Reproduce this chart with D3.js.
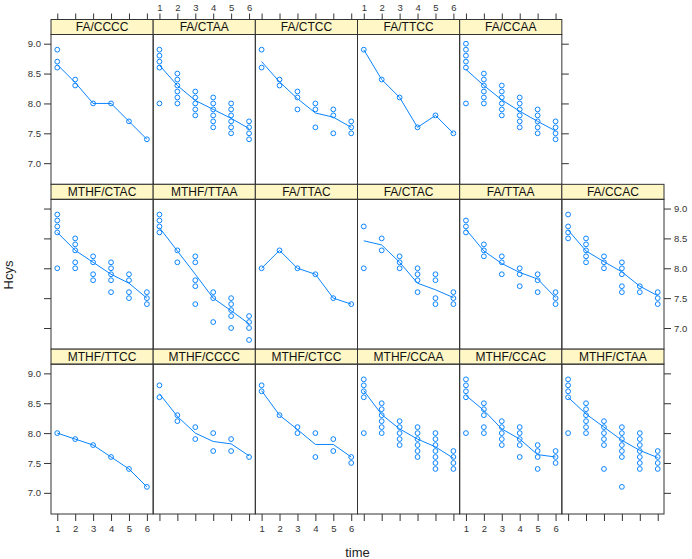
<!DOCTYPE html>
<html><head><meta charset="utf-8">
<script src="https://cdn.jsdelivr.net/npm/d3@7"></script>
<style>body{margin:0;background:#fff}svg{display:block}</style>
</head><body><svg id="c" width="692" height="559"></svg>
<script>
// ---------------- data ----------------
const times = [1, 2, 3, 4, 5, 6];
const yTicks = [7.0, 7.5, 8.0, 8.5, 9.0];
const xTickLabels = ["1", "2", "3", "4", "5", "6"];

// observed Hcys values per time point (index 0 -> time 1)
const FA_CCCC   = [[8.9,8.7,8.6],[8.4,8.3],[8.0],[8.0],[7.7],[7.4]];
const FA_CTAA   = [[8.9,8.8,8.7,8.6,8.0],[8.5,8.4,8.3,8.2,8.1,8.0],[8.2,8.1,8.0,7.9,7.8],[8.1,8.0,7.9,7.8,7.7,7.6],[8.0,7.9,7.8,7.7,7.6,7.5],[7.7,7.6,7.5,7.4]];
const FA_CTCC   = [[8.9,8.6],[8.4,8.3],[8.2,8.1,7.9],[8.0,7.9,7.6],[7.9,7.8,7.5],[7.7,7.6,7.5]];
const FA_TTCC   = [[8.9],[8.4],[8.1],[7.6],[7.8],[7.5]];
const FA_CCAA   = [[9.0,8.9,8.8,8.7,8.6,8.0],[8.5,8.4,8.3,8.2,8.1,8.0],[8.3,8.2,8.1,8.0,7.9,7.8],[8.1,8.0,7.9,7.8,7.7,7.6],[7.9,7.8,7.7,7.6,7.5],[7.7,7.6,7.5,7.4]];
const MTHF_CTAC = [[8.9,8.8,8.7,8.6,8.0],[8.5,8.4,8.3,8.1,8.0],[8.2,8.1,7.9,7.8],[8.1,8.0,7.9,7.8,7.6],[7.9,7.8,7.6,7.5],[7.6,7.5,7.4]];
const MTHF_TTAA = [[8.9,8.8,8.7,8.6],[8.3,8.1],[8.2,8.1,7.8,7.7,7.4],[7.6,7.5,7.1],[7.5,7.4,7.3,7.2,7.0],[7.2,7.1,7.0,6.8]];
const FA_TTAC   = [[8.0],[8.3],[8.0],[7.9],[7.5],[7.4]];
const FA_CTAC   = [[8.7,8.0],[8.5,8.3],[8.2,8.1,8.0],[8.0,7.9,7.8,7.6],[7.9,7.8,7.5,7.4],[7.6,7.5,7.4]];
const FA_TTAA   = [[8.8,8.7,8.6],[8.4,8.3,8.2],[8.2,8.1,7.9],[8.0,7.9,7.7],[7.9,7.8,7.6],[7.6,7.5,7.4]];
const FA_CCAC   = [[8.9,8.7,8.6,8.5],[8.5,8.4,8.3,8.2,8.1],[8.2,8.1,8.0],[8.1,8.0,7.9,7.7,7.6],[7.7,7.6],[7.6,7.5,7.4]];
const MTHF_TTCC = [[8.0],[7.9],[7.8],[7.6],[7.4],[7.1]];
const MTHF_CCCC = [[8.8,8.6],[8.3,8.2],[8.1,7.9],[8.0,7.7],[7.9,7.7],[7.6]];
const MTHF_CTCC = [[8.8,8.7],[8.3],[8.1,8.0],[8.0,7.6],[7.9,7.7],[7.6,7.5]];
const MTHF_CCAA = [[8.9,8.8,8.7,8.6,8.0],[8.5,8.4,8.3,8.2,8.1,8.0],[8.2,8.1,8.0,7.9,7.8],[8.1,8.0,7.9,7.8,7.7,7.6],[8.0,7.9,7.8,7.7,7.6,7.5,7.4],[7.7,7.6,7.5,7.4]];
const MTHF_CCAC = [[8.9,8.8,8.7,8.6,8.0],[8.5,8.4,8.3,8.1,8.0],[8.2,8.1,8.0,7.9,7.8],[8.1,8.0,7.9,7.8,7.6],[7.8,7.7,7.6,7.4],[7.7,7.6,7.5]];
const MTHF_CTAA = [[8.9,8.8,8.7,8.6,8.0],[8.5,8.4,8.3,8.2,8.1,8.0],[8.2,8.1,8.0,7.9,7.8,7.4],[8.1,8.0,7.9,7.8,7.7,7.6,7.1],[8.0,7.9,7.8,7.7,7.6,7.5,7.4],[7.7,7.6,7.5,7.4]];

// fitted trend line values per time point
const FA_CCCC_fit   = [8.65,8.35,8.0,8.0,7.7,7.4];
const FA_CTAA_fit   = [8.64,8.30,8.05,7.90,7.75,7.58];
const FA_CTCC_fit   = [8.70,8.36,8.08,7.84,7.77,7.60];
const FA_TTCC_fit   = [8.9,8.4,8.1,7.6,7.8,7.5];
const FA_CCAA_fit   = [8.57,8.30,8.06,7.87,7.70,7.54];
const MTHF_CTAC_fit = [8.60,8.30,8.10,7.90,7.75,7.50];
const MTHF_TTAA_fit = [8.68,8.29,7.90,7.50,7.29,7.07];
const FA_TTAC_fit   = [8.0,8.3,8.0,7.9,7.5,7.4];
const FA_CTAC_fit   = [8.46,8.39,8.10,7.75,7.64,7.51];
const FA_TTAA_fit   = [8.65,8.29,8.08,7.93,7.82,7.51];
const FA_CCAC_fit   = [8.64,8.29,8.11,7.94,7.70,7.54];
const MTHF_TTCC_fit = [8.0,7.9,7.8,7.6,7.4,7.1];
const MTHF_CCCC_fit = [8.66,8.28,8.00,7.86,7.82,7.62];
const MTHF_CTCC_fit = [8.71,8.30,8.06,7.81,7.81,7.60];
const MTHF_CCAA_fit = [8.71,8.31,8.07,7.90,7.77,7.58];
const MTHF_CCAC_fit = [8.63,8.38,8.07,7.90,7.64,7.60];
const MTHF_CTAA_fit = [8.60,8.32,8.10,7.88,7.71,7.59];

// panels in reading order (top row has 5 panels, then rows of 6)
const panelNames = ["FA/CCCC","FA/CTAA","FA/CTCC","FA/TTCC","FA/CCAA",
  "MTHF/CTAC","MTHF/TTAA","FA/TTAC","FA/CTAC","FA/TTAA","FA/CCAC",
  "MTHF/TTCC","MTHF/CCCC","MTHF/CTCC","MTHF/CCAA","MTHF/CCAC","MTHF/CTAA"];
const panelPoints = [FA_CCCC,FA_CTAA,FA_CTCC,FA_TTCC,FA_CCAA,
  MTHF_CTAC,MTHF_TTAA,FA_TTAC,FA_CTAC,FA_TTAA,FA_CCAC,
  MTHF_TTCC,MTHF_CCCC,MTHF_CTCC,MTHF_CCAA,MTHF_CCAC,MTHF_CTAA];
const panelFits = [FA_CCCC_fit,FA_CTAA_fit,FA_CTCC_fit,FA_TTCC_fit,FA_CCAA_fit,
  MTHF_CTAC_fit,MTHF_TTAA_fit,FA_TTAC_fit,FA_CTAC_fit,FA_TTAA_fit,FA_CCAC_fit,
  MTHF_TTCC_fit,MTHF_CCCC_fit,MTHF_CTCC_fit,MTHF_CCAA_fit,MTHF_CCAC_fit,MTHF_CTAA_fit];

// ---------------- layout ----------------
const L = 51, R = 664, T = 19.5, B = 514, stripH = 15;
const nCol = 6, nRow = 3;
const colW = (R - L) / nCol, rowH = (B - T) / nRow;
const blue = "#0a84ff", border = "#333";
const font = "'Liberation Sans', Arial, sans-serif";
const xDomain = [0.65, 6.35], yDomain = [6.646, 9.154];

const svg = d3.select("#c");

function pos(i) {
  if (i < 5) return {row: 0, col: i};
  return {row: 1 + Math.floor((i - 5) / 6), col: (i - 5) % 6};
}
function xScale(col) { return d3.scaleLinear().domain(xDomain).range([L + col * colW, L + (col + 1) * colW]); }
function yScale(row) { const top = T + row * rowH; return d3.scaleLinear().domain(yDomain).range([top + rowH, top + stripH]); }

panelNames.forEach((name, i) => {
  const {row, col} = pos(i);
  const x = xScale(col), y = yScale(row);
  const x0 = L + col * colW, top = T + row * rowH;
  const g = svg.append("g");
  // strip
  g.append("rect").attr("x", x0).attr("y", top).attr("width", colW).attr("height", stripH)
    .attr("fill", "#fff7c6").attr("stroke", border).attr("stroke-width", 1);
  g.append("text").attr("x", x0 + colW / 2).attr("y", top + stripH / 2 + 4.3)
    .attr("text-anchor", "middle").attr("font-family", font).attr("font-size", 12)
    .attr("fill", "#111").text(name);
  // line
  const line = d3.line().x((d, k) => x(times[k])).y(d => y(d));
  g.append("path").attr("d", line(panelFits[i])).attr("fill", "none")
    .attr("stroke", blue).attr("stroke-width", 1);
  // points
  panelPoints[i].forEach((vals, k) => {
    vals.forEach(v => {
      g.append("circle").attr("cx", x(times[k])).attr("cy", y(v)).attr("r", 2.4)
        .attr("fill", "none").attr("stroke", blue).attr("stroke-width", 1);
    });
  });
  // panel border
  g.append("rect").attr("x", x0).attr("y", top + stripH).attr("width", colW).attr("height", rowH - stripH)
    .attr("fill", "none").attr("stroke", border).attr("stroke-width", 1);
});

function styleAxis(sel) {
  sel.select(".domain").remove();
  sel.selectAll("line").attr("stroke", border);
  sel.selectAll("text").attr("font-family", font).attr("font-size", 9.5).attr("fill", "#333");
  sel.attr("font-family", null).attr("font-size", null);
}
const fmtY = d3.format(".1f");
// left / right axes
for (let r = 0; r < nRow; r++) {
  const y = yScale(r);
  const left = svg.append("g").attr("transform", `translate(${L},0)`)
    .call(d3.axisLeft(y).tickValues(yTicks).tickSize(7).tickPadding(3).tickFormat(r === 1 ? () => "" : fmtY));
  styleAxis(left);
  const rx = r === 0 ? L + 5 * colW : R;
  const right = svg.append("g").attr("transform", `translate(${rx},0)`)
    .call(d3.axisRight(y).tickValues(yTicks).tickSize(7).tickPadding(3).tickFormat(r === 1 ? fmtY : () => ""));
  styleAxis(right);
}
// top / bottom axes
for (let c = 0; c < nCol; c++) {
  const x = xScale(c);
  if (c < 5) {
    const top = svg.append("g").attr("transform", `translate(0,${T})`)
      .call(d3.axisTop(x).tickValues(times).tickSize(6).tickPadding(3)
        .tickFormat((d, k) => (c % 2 === 1 ? xTickLabels[k] : "")));
    styleAxis(top);
  }
  const bot = svg.append("g").attr("transform", `translate(0,${B})`)
    .call(d3.axisBottom(x).tickValues(times).tickSize(7).tickPadding(4)
      .tickFormat((d, k) => (c % 2 === 0 ? xTickLabels[k] : "")));
  styleAxis(bot);
}
// axis titles
svg.append("text").attr("x", (L + R) / 2).attr("y", 557).attr("text-anchor", "middle")
  .attr("font-family", font).attr("font-size", 13).attr("fill", "#222").text("time");
svg.append("text").attr("transform", `translate(13,275) rotate(-90)`).attr("text-anchor", "middle")
  .attr("font-family", font).attr("font-size", 13).attr("fill", "#222").text("Hcys");
</script></body></html>
